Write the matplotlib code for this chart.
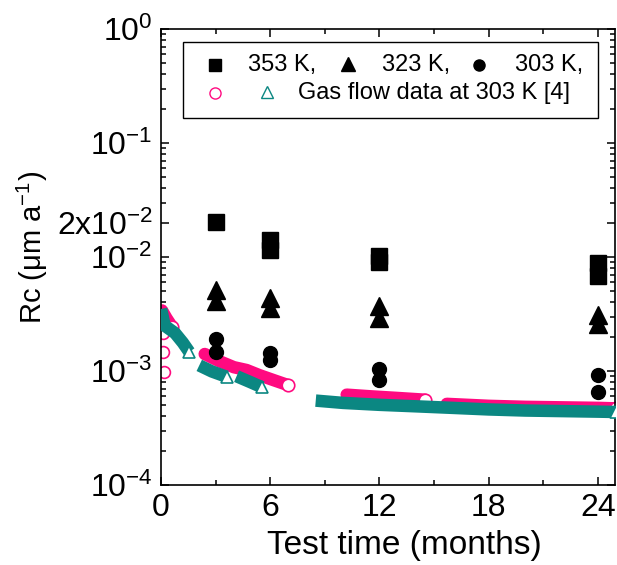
import numpy as np
import matplotlib.pyplot as plt
from matplotlib.ticker import FixedLocator, FixedFormatter, LogLocator, NullFormatter

plt.rcParams['font.family'] = ['Liberation Sans', 'DejaVu Sans']
plt.rcParams['mathtext.default'] = 'regular'

# immersion test data (months, um/a)
t_353 = [3, 6, 6, 12, 12, 24, 24]
rc_353 = [0.0203, 0.0140, 0.0116, 0.0103, 0.0091, 0.0088, 0.0068]
t_323 = [3, 3, 6, 6, 12, 12, 24, 24]
rc_323 = [0.0051, 0.0041, 0.0044, 0.0036, 0.0037, 0.0029, 0.0031, 0.0026]
t_303 = [3, 3, 6, 6, 12, 12, 24, 24]
rc_303 = [0.00189, 0.00148, 0.00143, 0.00124, 0.00105, 0.00083, 0.00093, 0.00065]

# gas flow data at 303 K [4], circles (pink)
pink_a_t = [0.05, 0.3, 0.6]
pink_a_rc = [3.4e-3, 2.9e-3, 2.45e-3]
pink_iso_t = [0.1, 0.1, 0.15]
pink_iso_rc = [2.15e-3, 1.47e-3, 9.9e-4]
pink_b_t = [2.4, 3.2, 4.0, 4.7, 5.4, 6.2, 7.0]
pink_b_rc = [1.41e-3, 1.22e-3, 1.08e-3, 1.02e-3, 9.2e-4, 8.3e-4, 7.5e-4]
pink_c_t = [10.2, 11.5, 13.0, 14.5]
pink_c_rc = [6.2e-4, 6.0e-4, 5.8e-4, 5.6e-4]
pink_d_t = [15.7, 18, 20, 22, 24, 25]
pink_d_rc = [5.15e-4, 4.95e-4, 4.85e-4, 4.8e-4, 4.75e-4, 4.7e-4]

# gas flow data at 303 K [4], triangles (teal)
teal_a_t = [0.0, 0.2, 0.77, 1.2, 1.55]
teal_a_rc = [3.5e-3, 2.5e-3, 2.15e-3, 1.77e-3, 1.47e-3]
teal_b_t = [2.1, 2.8, 3.6]
teal_b_rc = [1.12e-3, 9.9e-4, 8.9e-4]
teal_c_t = [4.15, 4.9, 5.55]
teal_c_rc = [9.0e-4, 8.0e-4, 7.2e-4]
teal_d_t = [8.5, 10, 12, 14, 16, 18, 20, 22, 24, 25]
teal_d_rc = [5.5e-4, 5.25e-4, 5.05e-4, 4.9e-4, 4.75e-4, 4.6e-4, 4.5e-4, 4.45e-4, 4.4e-4, 4.37e-4]

x_ticks = [0, 6, 12, 18, 24]
y_ticks = [1e-4, 1e-3, 1e-2, 2e-2, 1e-1, 1e0]
y_labels = ['$10^{-4}$', '$10^{-3}$', '$10^{-2}$', '$2x10^{-2}$', '$10^{-1}$', '$10^{0}$']

pink = '#FF0A80'
teal = '#0B8782'

fig = plt.figure(figsize=(6.17, 5.65), dpi=100)
ax = fig.add_axes([0.261, 0.1416, 0.736, 0.807])

# dense gas-flow records drawn as thick bands, last record as open marker
def band(t, rc, color, marker, cap, z):
    ax.plot(t, rc, color=color, lw=9, solid_capstyle=cap, zorder=z)
    ax.plot(t[-1], rc[-1], marker, ms=9, mfc='white', mec=color, mew=1.2, zorder=z + 0.1)

band(pink_a_t, pink_a_rc, pink, 'o', 'round', 2)
ax.plot(pink_iso_t, pink_iso_rc, 'o', ms=8.5, mfc='white', mec=pink, mew=1.2, zorder=2)
band(pink_b_t, pink_b_rc, pink, 'o', 'round', 2)
band(pink_c_t, pink_c_rc, pink, 'o', 'round', 2)
band(pink_d_t, pink_d_rc, pink, 'o', 'round', 2)

band(teal_a_t, teal_a_rc, teal, '^', 'butt', 3)
band(teal_b_t, teal_b_rc, teal, '^', 'butt', 3)
band(teal_c_t, teal_c_rc, teal, '^', 'butt', 3)
band(teal_d_t, teal_d_rc, teal, '^', 'butt', 3)

ax.plot(t_353, rc_353, 's', color='black', ms=11, zorder=4)
ax.plot(t_323, rc_323, '^', color='black', ms=13, zorder=4)
ax.plot(t_303, rc_303, 'o', color='black', ms=10, zorder=4)

ax.set_yscale('log')
ax.set_xlim(0, 24.95)
ax.set_ylim(1e-4, 1e0)

ax.set_xticks(x_ticks)
ax.set_xticks([3, 9, 15, 21], minor=True)
ax.yaxis.set_major_locator(FixedLocator(y_ticks))
ax.yaxis.set_major_formatter(FixedFormatter(y_labels))
ax.yaxis.set_minor_locator(LogLocator(base=10, subs=np.arange(2, 10), numticks=20))
ax.yaxis.set_minor_formatter(NullFormatter())

ax.tick_params(which='both', direction='in', top=True, right=True, width=1.1)
ax.tick_params(which='major', length=6, labelsize=23)
ax.tick_params(which='minor', length=3.5)
ax.tick_params(axis='x', pad=6)
ax.tick_params(axis='y', pad=6)
for s in ax.spines.values():
    s.set_linewidth(1.2)

ax.set_xlabel('Test time (months)', fontsize=24)
ax.xaxis.set_label_coords(0.535, -0.098)
ax.set_ylabel('Rc (μm a$^{-1}$)', fontsize=21)
ax.yaxis.set_label_coords(-0.245, 0.52)

# legend box
ax.add_patch(plt.Rectangle((0.048, 0.805), 0.915, 0.1665, transform=ax.transAxes,
                           fill=False, lw=1.0, ec='black', zorder=5))
lg = dict(transform=ax.transAxes, zorder=6, clip_on=False)
ax.plot(0.119, 0.921, 's', color='black', ms=8, **lg)
ax.plot(0.412, 0.923, '^', color='black', ms=10, **lg)
ax.plot(0.700, 0.921, 'o', color='black', ms=8, **lg)
ax.plot(0.119, 0.860, 'o', ms=8, mfc='white', mec=pink, mew=1.0, **lg)
ax.plot(0.233, 0.862, '^', ms=9, mfc='white', mec=teal, mew=1.0, **lg)
tk = dict(transform=ax.transAxes, fontsize=17, va='center', ha='left', zorder=6)
ax.text(0.192, 0.921, '353 K,', **tk)
ax.text(0.487, 0.921, '323 K,', **tk)
ax.text(0.780, 0.921, '303 K,', **tk)
ax.text(0.302, 0.860, 'Gas flow data at 303 K [4]', **tk)

plt.savefig('out.png', dpi=100)
